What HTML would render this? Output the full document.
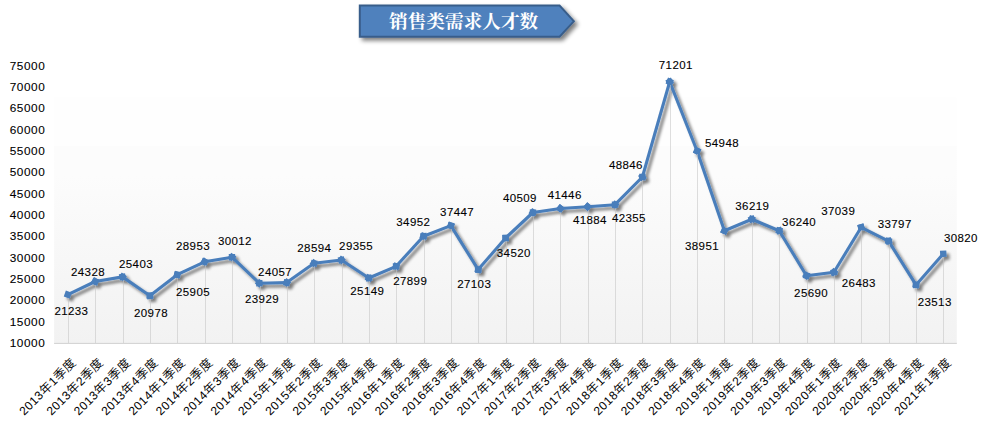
<!DOCTYPE html>
<html lang="zh-CN">
<head>
<meta charset="utf-8">
<title>销售类需求人才数</title>
<style>
html,body{margin:0;padding:0;background:#fff;}
body{width:982px;height:429px;overflow:hidden;}
svg{display:block;}
.num{font-family:"Liberation Sans","Noto Sans CJK SC",sans-serif;font-size:11.8px;letter-spacing:0.55px;fill:#000;stroke:#000;stroke-width:0.1px;}
.dl{font-family:"Liberation Sans","Noto Sans CJK SC",sans-serif;font-size:11.5px;letter-spacing:0.4px;fill:#000;stroke:#000;stroke-width:0.1px;}
.cat{font-family:"Liberation Sans","Noto Sans CJK SC",sans-serif;font-size:12px;letter-spacing:0.48px;fill:#000;}
.cat .c{font-size:12.5px;font-weight:350;}
.ttl{font-family:"Liberation Serif","Noto Serif CJK SC",serif;font-size:18.67px;font-weight:bold;fill:#fff;}
</style>
</head>
<body>
<svg width="982" height="429" viewBox="0 0 982 429">
<defs>
<linearGradient id="pg" x1="0" y1="0" x2="0" y2="1">
<stop offset="0" stop-color="#fcfcfc"/>
<stop offset="0.15" stop-color="#fcfcfc"/>
<stop offset="1" stop-color="#f2f2f2"/>
</linearGradient>
<marker id="dm" viewBox="-6 -6 12 12" markerWidth="12" markerHeight="12" refX="0" refY="0" orient="auto" markerUnits="userSpaceOnUse"><path d="M-4.5 0L0 -4.5L4.5 0L0 4.5Z" fill="#4a7ebb" stroke="none"/></marker>
<filter id="ls" x="-5%" y="-10%" width="110%" height="125%">
<feGaussianBlur in="SourceAlpha" stdDeviation="1.8"/>
<feOffset dx="2.8" dy="2.6" result="b"/>
<feComponentTransfer><feFuncA type="linear" slope="0.5"/></feComponentTransfer>
<feMerge><feMergeNode/><feMergeNode in="SourceGraphic"/></feMerge>
</filter>
<filter id="bs" x="-10%" y="-30%" width="125%" height="180%">
<feGaussianBlur in="SourceAlpha" stdDeviation="2"/>
<feOffset dx="2.5" dy="3" result="b"/>
<feComponentTransfer><feFuncA type="linear" slope="0.5"/></feComponentTransfer>
<feMerge><feMergeNode/><feMergeNode in="SourceGraphic"/></feMerge>
</filter>
</defs>
<rect x="0" y="0" width="982" height="429" fill="#ffffff"/>
<rect x="54.1" y="97.4" width="902.7" height="48.6" fill="#fefefe"/>
<rect x="54.1" y="146.0" width="902.7" height="197.4" fill="url(#pg)"/>
<line x1="54.1" y1="343.4" x2="956.8" y2="343.4" stroke="#d0d0d0" stroke-width="1"/>
<g filter="url(#ls)">
<g fill="none" stroke="#4a7ebb" stroke-width="3.1" stroke-linecap="butt" marker-start="url(#dm)" marker-end="url(#dm)">
<line x1="67.8" y1="294.6" x2="95.2" y2="281.5"/>
<line x1="95.2" y1="281.5" x2="122.5" y2="276.9"/>
<line x1="122.5" y1="276.9" x2="149.9" y2="295.7"/>
<line x1="149.9" y1="295.7" x2="177.2" y2="274.7"/>
<line x1="177.2" y1="274.7" x2="204.6" y2="261.8"/>
<line x1="204.6" y1="261.8" x2="232.0" y2="257.2"/>
<line x1="232.0" y1="257.2" x2="259.3" y2="283.2"/>
<line x1="259.3" y1="283.2" x2="286.7" y2="282.6"/>
<line x1="286.7" y1="282.6" x2="314.0" y2="263.3"/>
<line x1="314.0" y1="263.3" x2="341.4" y2="260.0"/>
<line x1="341.4" y1="260.0" x2="368.8" y2="278.0"/>
<line x1="368.8" y1="278.0" x2="396.1" y2="266.3"/>
<line x1="396.1" y1="266.3" x2="423.5" y2="236.2"/>
<line x1="423.5" y1="236.2" x2="450.8" y2="225.6"/>
<line x1="450.8" y1="225.6" x2="478.2" y2="269.6"/>
<line x1="478.2" y1="269.6" x2="505.6" y2="238.0"/>
<line x1="505.6" y1="238.0" x2="532.9" y2="212.5"/>
<line x1="532.9" y1="212.5" x2="560.3" y2="208.5"/>
<line x1="560.3" y1="208.5" x2="587.6" y2="206.7"/>
<line x1="587.6" y1="206.7" x2="615.0" y2="204.7"/>
<line x1="615.0" y1="204.7" x2="642.4" y2="177.0"/>
<line x1="642.4" y1="177.0" x2="669.7" y2="81.8"/>
<line x1="669.7" y1="81.8" x2="697.1" y2="151.0"/>
<line x1="697.1" y1="151.0" x2="724.4" y2="230.8"/>
<line x1="724.4" y1="230.8" x2="751.8" y2="219.2"/>
<line x1="751.8" y1="219.2" x2="779.2" y2="230.7"/>
<line x1="779.2" y1="230.7" x2="806.5" y2="275.7"/>
<line x1="806.5" y1="275.7" x2="833.9" y2="272.3"/>
<line x1="833.9" y1="272.3" x2="861.2" y2="227.3"/>
<line x1="861.2" y1="227.3" x2="888.6" y2="241.1"/>
<line x1="888.6" y1="241.1" x2="916.0" y2="284.9"/>
<line x1="916.0" y1="284.9" x2="943.3" y2="253.8"/>
</g>
</g>
<g stroke="#c4c4c4" stroke-opacity="0.56" stroke-width="1" shape-rendering="crispEdges">
<line x1="68.5" y1="297.6" x2="68.5" y2="343.4"/>
<line x1="95.5" y1="284.5" x2="95.5" y2="343.4"/>
<line x1="123.5" y1="279.9" x2="123.5" y2="343.4"/>
<line x1="150.5" y1="298.7" x2="150.5" y2="343.4"/>
<line x1="177.5" y1="277.7" x2="177.5" y2="343.4"/>
<line x1="205.5" y1="264.8" x2="205.5" y2="343.4"/>
<line x1="232.5" y1="260.2" x2="232.5" y2="343.4"/>
<line x1="260.5" y1="286.2" x2="260.5" y2="343.4"/>
<line x1="287.5" y1="285.6" x2="287.5" y2="343.4"/>
<line x1="314.5" y1="266.3" x2="314.5" y2="343.4"/>
<line x1="342.5" y1="263.0" x2="342.5" y2="343.4"/>
<line x1="369.5" y1="281.0" x2="369.5" y2="343.4"/>
<line x1="396.5" y1="269.3" x2="396.5" y2="343.4"/>
<line x1="424.5" y1="239.2" x2="424.5" y2="343.4"/>
<line x1="451.5" y1="228.6" x2="451.5" y2="343.4"/>
<line x1="478.5" y1="272.6" x2="478.5" y2="343.4"/>
<line x1="506.5" y1="241.0" x2="506.5" y2="343.4"/>
<line x1="533.5" y1="215.5" x2="533.5" y2="343.4"/>
<line x1="560.5" y1="211.5" x2="560.5" y2="343.4"/>
<line x1="588.5" y1="209.7" x2="588.5" y2="343.4"/>
<line x1="615.5" y1="207.7" x2="615.5" y2="343.4"/>
<line x1="642.5" y1="180.0" x2="642.5" y2="343.4"/>
<line x1="670.5" y1="84.8" x2="670.5" y2="343.4"/>
<line x1="697.5" y1="154.0" x2="697.5" y2="343.4"/>
<line x1="724.5" y1="233.8" x2="724.5" y2="343.4"/>
<line x1="752.5" y1="222.2" x2="752.5" y2="343.4"/>
<line x1="779.5" y1="233.7" x2="779.5" y2="343.4"/>
<line x1="807.5" y1="278.7" x2="807.5" y2="343.4"/>
<line x1="834.5" y1="275.3" x2="834.5" y2="343.4"/>
<line x1="861.5" y1="230.3" x2="861.5" y2="343.4"/>
<line x1="889.5" y1="244.1" x2="889.5" y2="343.4"/>
<line x1="916.5" y1="287.9" x2="916.5" y2="343.4"/>
<line x1="943.5" y1="256.8" x2="943.5" y2="343.4"/>
</g>
<g class="num" text-anchor="end">
<text x="45.3" y="347">10000</text>
<text x="45.3" y="326">15000</text>
<text x="45.3" y="304">20000</text>
<text x="45.3" y="283">25000</text>
<text x="45.3" y="262">30000</text>
<text x="45.3" y="240">35000</text>
<text x="45.3" y="219">40000</text>
<text x="45.3" y="198">45000</text>
<text x="45.3" y="176">50000</text>
<text x="45.3" y="155">55000</text>
<text x="45.3" y="134">60000</text>
<text x="45.3" y="112">65000</text>
<text x="45.3" y="91">70000</text>
<text x="45.3" y="70">75000</text>
</g>
<g class="dl" text-anchor="middle">
<text x="71.4" y="315">21233</text>
<text x="88.0" y="276">24328</text>
<text x="136.0" y="268">25403</text>
<text x="151.0" y="317">20978</text>
<text x="193.0" y="250">28953</text>
<text x="193.0" y="296">25905</text>
<text x="234.9" y="245">30012</text>
<text x="275.1" y="276">24057</text>
<text x="262.0" y="303">23929</text>
<text x="314.3" y="252">28594</text>
<text x="356.1" y="250">29355</text>
<text x="367.3" y="295">25149</text>
<text x="410.2" y="285">27899</text>
<text x="413.3" y="226">34952</text>
<text x="457.1" y="216">37447</text>
<text x="474.2" y="288">27103</text>
<text x="513.8" y="257">34520</text>
<text x="519.9" y="202">40509</text>
<text x="564.7" y="199">41446</text>
<text x="589.9" y="224">41884</text>
<text x="628.9" y="222">42355</text>
<text x="625.9" y="169">48846</text>
<text x="675.8" y="69">71201</text>
<text x="722.0" y="147">54948</text>
<text x="702.0" y="250">38951</text>
<text x="752.3" y="210">36219</text>
<text x="799.1" y="226">36240</text>
<text x="811.1" y="297">25690</text>
<text x="858.8" y="287">26483</text>
<text x="838.2" y="215">37039</text>
<text x="894.7" y="228">33797</text>
<text x="934.7" y="306">23513</text>
<text x="960.9" y="242">30820</text>
</g>
<g class="cat" text-anchor="end">
<text transform="translate(77.0 363.2) rotate(-45)">2013<tspan class="c">年</tspan>1<tspan class="c">季度</tspan></text>
<text transform="translate(104.3 363.2) rotate(-45)">2013<tspan class="c">年</tspan>2<tspan class="c">季度</tspan></text>
<text transform="translate(131.7 363.2) rotate(-45)">2013<tspan class="c">年</tspan>3<tspan class="c">季度</tspan></text>
<text transform="translate(159.0 363.2) rotate(-45)">2013<tspan class="c">年</tspan>4<tspan class="c">季度</tspan></text>
<text transform="translate(186.3 363.2) rotate(-45)">2014<tspan class="c">年</tspan>1<tspan class="c">季度</tspan></text>
<text transform="translate(213.7 363.2) rotate(-45)">2014<tspan class="c">年</tspan>2<tspan class="c">季度</tspan></text>
<text transform="translate(241.1 363.2) rotate(-45)">2014<tspan class="c">年</tspan>3<tspan class="c">季度</tspan></text>
<text transform="translate(268.4 363.2) rotate(-45)">2014<tspan class="c">年</tspan>4<tspan class="c">季度</tspan></text>
<text transform="translate(295.8 363.2) rotate(-45)">2015<tspan class="c">年</tspan>1<tspan class="c">季度</tspan></text>
<text transform="translate(323.1 363.2) rotate(-45)">2015<tspan class="c">年</tspan>2<tspan class="c">季度</tspan></text>
<text transform="translate(350.4 363.2) rotate(-45)">2015<tspan class="c">年</tspan>3<tspan class="c">季度</tspan></text>
<text transform="translate(377.8 363.2) rotate(-45)">2015<tspan class="c">年</tspan>4<tspan class="c">季度</tspan></text>
<text transform="translate(405.2 363.2) rotate(-45)">2016<tspan class="c">年</tspan>1<tspan class="c">季度</tspan></text>
<text transform="translate(432.5 363.2) rotate(-45)">2016<tspan class="c">年</tspan>2<tspan class="c">季度</tspan></text>
<text transform="translate(459.9 363.2) rotate(-45)">2016<tspan class="c">年</tspan>3<tspan class="c">季度</tspan></text>
<text transform="translate(487.2 363.2) rotate(-45)">2016<tspan class="c">年</tspan>4<tspan class="c">季度</tspan></text>
<text transform="translate(514.6 363.2) rotate(-45)">2017<tspan class="c">年</tspan>1<tspan class="c">季度</tspan></text>
<text transform="translate(541.9 363.2) rotate(-45)">2017<tspan class="c">年</tspan>2<tspan class="c">季度</tspan></text>
<text transform="translate(569.2 363.2) rotate(-45)">2017<tspan class="c">年</tspan>3<tspan class="c">季度</tspan></text>
<text transform="translate(596.6 363.2) rotate(-45)">2017<tspan class="c">年</tspan>4<tspan class="c">季度</tspan></text>
<text transform="translate(623.9 363.2) rotate(-45)">2018<tspan class="c">年</tspan>1<tspan class="c">季度</tspan></text>
<text transform="translate(651.3 363.2) rotate(-45)">2018<tspan class="c">年</tspan>2<tspan class="c">季度</tspan></text>
<text transform="translate(678.6 363.2) rotate(-45)">2018<tspan class="c">年</tspan>3<tspan class="c">季度</tspan></text>
<text transform="translate(706.0 363.2) rotate(-45)">2018<tspan class="c">年</tspan>4<tspan class="c">季度</tspan></text>
<text transform="translate(733.4 363.2) rotate(-45)">2019<tspan class="c">年</tspan>1<tspan class="c">季度</tspan></text>
<text transform="translate(760.7 363.2) rotate(-45)">2019<tspan class="c">年</tspan>2<tspan class="c">季度</tspan></text>
<text transform="translate(788.0 363.2) rotate(-45)">2019<tspan class="c">年</tspan>3<tspan class="c">季度</tspan></text>
<text transform="translate(815.4 363.2) rotate(-45)">2019<tspan class="c">年</tspan>4<tspan class="c">季度</tspan></text>
<text transform="translate(842.8 363.2) rotate(-45)">2020<tspan class="c">年</tspan>1<tspan class="c">季度</tspan></text>
<text transform="translate(870.1 363.2) rotate(-45)">2020<tspan class="c">年</tspan>2<tspan class="c">季度</tspan></text>
<text transform="translate(897.4 363.2) rotate(-45)">2020<tspan class="c">年</tspan>3<tspan class="c">季度</tspan></text>
<text transform="translate(924.8 363.2) rotate(-45)">2020<tspan class="c">年</tspan>4<tspan class="c">季度</tspan></text>
<text transform="translate(952.1 363.2) rotate(-45)">2021<tspan class="c">年</tspan>1<tspan class="c">季度</tspan></text>
</g>
<g filter="url(#bs)">
<path d="M358.8 4.6H560L575.2 21.2L560 37.8H358.8Z" fill="#385d8a"/>
<path d="M360.8 6.5H559.1L572.6 21.2L559.1 35.8H360.8Z" fill="#4f81bd"/>
</g>
<text class="ttl" x="463.6" y="27.9" text-anchor="middle">销售类需求人才数</text>
</svg>
</body>
</html>
